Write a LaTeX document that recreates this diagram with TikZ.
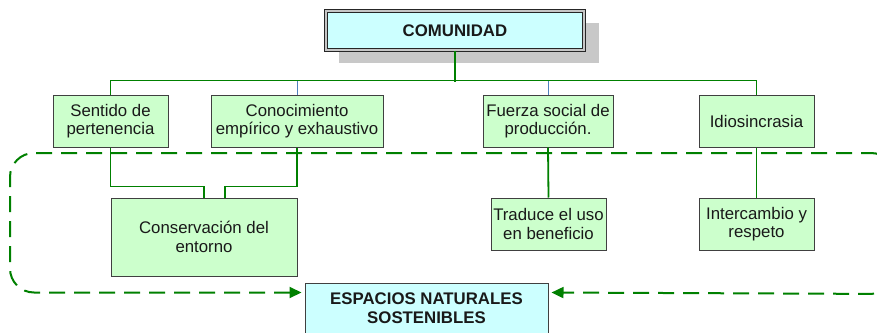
\documentclass[tikz,border=0pt]{standalone}
\usepackage{fontspec}
\setmainfont{Liberation Sans}
\usetikzlibrary{arrows.meta}
\definecolor{verde}{HTML}{CCFFCC}
\definecolor{celeste}{HTML}{CCFFFF}
\definecolor{linea}{HTML}{008000}
\definecolor{azul}{HTML}{4F81BD}
\definecolor{sombra}{HTML}{C8C8C8}
\tikzset{
    caja/.style = {draw=black!75, fill=verde, line width=1pt, align=center,
        inner sep=0pt, text=black!90, font=\fontsize{16.8}{18.6}\selectfont},
    titulo/.style = {caja, fill=celeste, font=\fontsize{16.8}{18.6}\selectfont\bfseries},
    rama/.style = {draw=linea, line width=1.8pt},
    fina/.style = {draw=azul, line width=0.9pt},
    lazo/.style = {draw=linea, line width=2pt, dash pattern=on 16pt off 9pt,
        rounded corners=24pt}
}
\begin{document}
\begin{tikzpicture}[x=1pt, y=-1pt]
        \useasboundingbox (0,0) rectangle (877,332);
        \clip (0,0) rectangle (877,332);
        % sombra del titulo
        \fill [sombra] (339,23) rectangle (599,63);
        \node [titulo, minimum width=258pt, minimum height=39pt, draw=black!85,
            double=gray!45, double distance=1.5pt] (comunidad) at (455,30.5) {COMUNIDAD};
        % primer nivel
        \node [caja, minimum width=115pt, minimum height=52pt] (sentido) at (110.5,121) {Sentido de\\pertenencia};
        \node [caja, minimum width=172pt, minimum height=52pt] (conocimiento) at (297,121) {Conocimiento\\emp\'irico y exhaustivo};
        \node [caja, minimum width=130pt, minimum height=52pt] (fuerza) at (548,121) {Fuerza social de\\producci\'on.};
        \node [caja, minimum width=115pt, minimum height=52pt] (idio) at (756.5,121) {Idiosincrasia};
        % segundo nivel
        \node [caja, minimum width=186pt, minimum height=78pt] (conserv) at (204,237) {Conservaci\'on del\\entorno};
        \node [caja, minimum width=115pt, minimum height=52pt] (traduce) at (548.5,224) {Traduce el uso\\en beneficio};
        \node [caja, minimum width=115pt, minimum height=52pt] (intercambio) at (756.5,224) {Intercambio y\\respeto};
        \node [titulo, minimum width=243pt, minimum height=50pt] (espacios) at (426.5,308) {ESPACIOS NATURALES\\SOSTENIBLES};
        % conectores
        \draw [rama] (comunidad.south) -- ++(0,31);
        \draw [rama] (sentido.north) -- ++(0,-14) -| (idio.north);
        \draw [fina] (conocimiento.north) -- ++(0,-14);
        \draw [fina] (fuerza.north) -- ++(0,-14);
        \draw [rama] (sentido.south) -- ++(0,39) -| (conserv.north);
        \draw [rama] (conocimiento.south) -- ++(0,39) -| ([xshift=21pt]conserv.north);
        \draw [rama] (fuerza.south) -- (traduce.north);
        \draw [rama] (idio.south) -- (intercambio.north);
        % lazo punteado
        \draw [lazo, {Triangle[length=12pt,width=11pt]}-{Triangle[length=12pt,width=11pt]},
            shorten <=3pt, shorten >=3pt]
            ([yshift=-10pt]espacios.north west) -| (10,153) -| (895,294) -- ([yshift=-10pt]espacios.north east);
    \end{tikzpicture}
\end{document}
